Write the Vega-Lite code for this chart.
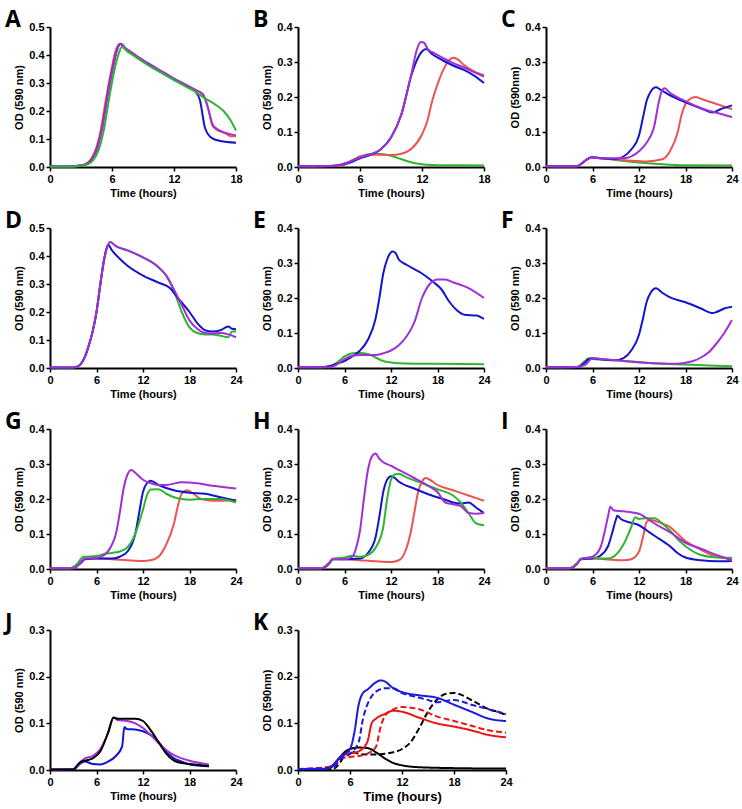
{
"$schema": "https://vega.github.io/schema/vega-lite/v6.json",
"background": "white",
"padding": {"left": 5, "right": 5, "top": 9, "bottom": 2},
"config": {
 "view": {"stroke": null},
 "axis": {"grid": false, "domainColor": "black", "domainWidth": 2, "tickColor": "black", "tickWidth": 1.5, "tickSize": 4, "labelFont": "Liberation Sans", "labelFontWeight": "bold", "labelFontSize": 11, "labelColor": "black", "labelPadding": 2, "titleFont": "Liberation Sans", "titleFontWeight": "bold", "titleFontSize": 11, "titleColor": "black", "labelFlush": false},
 "axisX": {"titlePadding": 3},
 "axisY": {"titlePadding": 4, "format": ".1f"},
 "title": {"font": "Open Sans", "fontSize": 23, "fontWeight": "bold", "color": "black", "anchor": "start", "frame": "group", "dx": -45, "dy": 12, "offset": 1, "baseline": "alphabetic"},
 "line": {"strokeWidth": 2, "interpolate": "monotone"},
 "concat": {"spacing": 10}
},
"datasets": {
 "A": [
  {"s":"red","t":0,"y":0.002},{"s":"red","t":2,"y":0.002},{"s":"red","t":2.9,"y":0.005},{"s":"red","t":3.4,"y":0.01},{"s":"red","t":3.9,"y":0.025},{"s":"red","t":4.4,"y":0.06},{"s":"red","t":4.9,"y":0.13},{"s":"red","t":5.4,"y":0.24},{"s":"red","t":5.9,"y":0.34},{"s":"red","t":6.4,"y":0.42},{"s":"red","t":6.8,"y":0.44},{"s":"red","t":7.2,"y":0.425},{"s":"red","t":8,"y":0.405},{"s":"red","t":9,"y":0.38},{"s":"red","t":10,"y":0.357},{"s":"red","t":11,"y":0.335},{"s":"red","t":12,"y":0.314},{"s":"red","t":13,"y":0.295},{"s":"red","t":14,"y":0.275},{"s":"red","t":14.8,"y":0.258},{"s":"red","t":15.3,"y":0.21},{"s":"red","t":15.7,"y":0.15},{"s":"red","t":16,"y":0.137},{"s":"red","t":17,"y":0.12},{"s":"red","t":17.5,"y":0.11},{"s":"red","t":18,"y":0.11},
  {"s":"blue","t":0,"y":0.002},{"s":"blue","t":2,"y":0.002},{"s":"blue","t":3,"y":0.005},{"s":"blue","t":3.5,"y":0.01},{"s":"blue","t":4,"y":0.025},{"s":"blue","t":4.5,"y":0.06},{"s":"blue","t":5,"y":0.13},{"s":"blue","t":5.5,"y":0.24},{"s":"blue","t":6,"y":0.34},{"s":"blue","t":6.5,"y":0.42},{"s":"blue","t":6.8,"y":0.44},{"s":"blue","t":7.2,"y":0.425},{"s":"blue","t":8,"y":0.405},{"s":"blue","t":9,"y":0.378},{"s":"blue","t":10,"y":0.355},{"s":"blue","t":11,"y":0.333},{"s":"blue","t":12,"y":0.312},{"s":"blue","t":13,"y":0.293},{"s":"blue","t":14,"y":0.273},{"s":"blue","t":14.5,"y":0.24},{"s":"blue","t":15,"y":0.14},{"s":"blue","t":15.6,"y":0.105},{"s":"blue","t":16.5,"y":0.093},{"s":"blue","t":18,"y":0.087},
  {"s":"purple","t":0,"y":0.002},{"s":"purple","t":2,"y":0.002},{"s":"purple","t":3,"y":0.005},{"s":"purple","t":3.5,"y":0.01},{"s":"purple","t":4,"y":0.025},{"s":"purple","t":4.5,"y":0.06},{"s":"purple","t":5,"y":0.13},{"s":"purple","t":5.5,"y":0.24},{"s":"purple","t":6,"y":0.34},{"s":"purple","t":6.5,"y":0.42},{"s":"purple","t":6.9,"y":0.44},{"s":"purple","t":7.3,"y":0.425},{"s":"purple","t":8,"y":0.407},{"s":"purple","t":9,"y":0.382},{"s":"purple","t":10,"y":0.36},{"s":"purple","t":11,"y":0.338},{"s":"purple","t":12,"y":0.316},{"s":"purple","t":13,"y":0.297},{"s":"purple","t":14,"y":0.277},{"s":"purple","t":14.8,"y":0.26},{"s":"purple","t":15.3,"y":0.21},{"s":"purple","t":15.7,"y":0.155},{"s":"purple","t":16,"y":0.14},{"s":"purple","t":17,"y":0.122},{"s":"purple","t":18,"y":0.113},
  {"s":"green","t":0,"y":0.002},{"s":"green","t":2.2,"y":0.002},{"s":"green","t":3.2,"y":0.005},{"s":"green","t":3.7,"y":0.01},{"s":"green","t":4.2,"y":0.025},{"s":"green","t":4.7,"y":0.06},{"s":"green","t":5.2,"y":0.13},{"s":"green","t":5.7,"y":0.24},{"s":"green","t":6.2,"y":0.34},{"s":"green","t":6.7,"y":0.41},{"s":"green","t":7,"y":0.43},{"s":"green","t":7.4,"y":0.415},{"s":"green","t":8,"y":0.4},{"s":"green","t":9,"y":0.375},{"s":"green","t":10,"y":0.352},{"s":"green","t":11,"y":0.332},{"s":"green","t":12,"y":0.31},{"s":"green","t":13,"y":0.29},{"s":"green","t":14,"y":0.27},{"s":"green","t":15,"y":0.245},{"s":"green","t":16,"y":0.223},{"s":"green","t":16.8,"y":0.2},{"s":"green","t":17.5,"y":0.165},{"s":"green","t":18,"y":0.13}
 ],
 "B": [
  {"s":"green","t":0,"y":0.002},{"s":"green","t":4,"y":0.003},{"s":"green","t":5,"y":0.015},{"s":"green","t":6,"y":0.03},{"s":"green","t":7,"y":0.037},{"s":"green","t":8,"y":0.037},{"s":"green","t":9,"y":0.032},{"s":"green","t":10,"y":0.022},{"s":"green","t":11,"y":0.013},{"s":"green","t":12,"y":0.008},{"s":"green","t":13,"y":0.006},{"s":"green","t":15,"y":0.005},{"s":"green","t":18,"y":0.004},
  {"s":"red","t":0,"y":0.002},{"s":"red","t":4,"y":0.003},{"s":"red","t":5,"y":0.015},{"s":"red","t":6,"y":0.03},{"s":"red","t":7,"y":0.035},{"s":"red","t":8,"y":0.035},{"s":"red","t":9,"y":0.034},{"s":"red","t":10,"y":0.038},{"s":"red","t":11,"y":0.053},{"s":"red","t":12,"y":0.093},{"s":"red","t":12.5,"y":0.13},{"s":"red","t":13,"y":0.19},{"s":"red","t":13.5,"y":0.236},{"s":"red","t":14,"y":0.274},{"s":"red","t":14.5,"y":0.3},{"s":"red","t":15,"y":0.312},{"s":"red","t":15.5,"y":0.307},{"s":"red","t":16,"y":0.293},{"s":"red","t":17,"y":0.274},{"s":"red","t":18,"y":0.262},
  {"s":"blue","t":0,"y":0.002},{"s":"blue","t":3,"y":0.003},{"s":"blue","t":4,"y":0.006},{"s":"blue","t":5,"y":0.012},{"s":"blue","t":6,"y":0.025},{"s":"blue","t":7,"y":0.035},{"s":"blue","t":8,"y":0.05},{"s":"blue","t":9,"y":0.084},{"s":"blue","t":10,"y":0.15},{"s":"blue","t":11,"y":0.265},{"s":"blue","t":11.5,"y":0.305},{"s":"blue","t":12,"y":0.33},{"s":"blue","t":12.4,"y":0.337},{"s":"blue","t":13,"y":0.322},{"s":"blue","t":14,"y":0.305},{"s":"blue","t":15,"y":0.29},{"s":"blue","t":16,"y":0.278},{"s":"blue","t":17,"y":0.262},{"s":"blue","t":18,"y":0.24},
  {"s":"purple","t":0,"y":0.002},{"s":"purple","t":3,"y":0.003},{"s":"purple","t":4,"y":0.006},{"s":"purple","t":5,"y":0.015},{"s":"purple","t":6,"y":0.027},{"s":"purple","t":7,"y":0.036},{"s":"purple","t":8,"y":0.05},{"s":"purple","t":9,"y":0.084},{"s":"purple","t":10,"y":0.15},{"s":"purple","t":11,"y":0.27},{"s":"purple","t":11.5,"y":0.335},{"s":"purple","t":11.9,"y":0.357},{"s":"purple","t":12.2,"y":0.355},{"s":"purple","t":12.6,"y":0.335},{"s":"purple","t":13,"y":0.328},{"s":"purple","t":14,"y":0.312},{"s":"purple","t":15,"y":0.297},{"s":"purple","t":16,"y":0.285},{"s":"purple","t":17,"y":0.272},{"s":"purple","t":18,"y":0.258}
 ],
 "C": [
  {"s":"green","t":0,"y":0.002},{"s":"green","t":4,"y":0.002},{"s":"green","t":4.6,"y":0.01},{"s":"green","t":5.3,"y":0.022},{"s":"green","t":5.9,"y":0.027},{"s":"green","t":9,"y":0.02},{"s":"green","t":12,"y":0.013},{"s":"green","t":15,"y":0.008},{"s":"green","t":18,"y":0.005},{"s":"green","t":24,"y":0.004},
  {"s":"red","t":0,"y":0.002},{"s":"red","t":4,"y":0.002},{"s":"red","t":4.6,"y":0.01},{"s":"red","t":5.3,"y":0.022},{"s":"red","t":5.9,"y":0.028},{"s":"red","t":7,"y":0.025},{"s":"red","t":9,"y":0.022},{"s":"red","t":11,"y":0.018},{"s":"red","t":13,"y":0.016},{"s":"red","t":15,"y":0.022},{"s":"red","t":16,"y":0.045},{"s":"red","t":17,"y":0.1},{"s":"red","t":17.5,"y":0.15},{"s":"red","t":18,"y":0.18},{"s":"red","t":18.6,"y":0.195},{"s":"red","t":19.3,"y":0.2},{"s":"red","t":20,"y":0.195},{"s":"red","t":22,"y":0.18},{"s":"red","t":24,"y":0.165},
  {"s":"blue","t":0,"y":0.002},{"s":"blue","t":4,"y":0.002},{"s":"blue","t":4.6,"y":0.01},{"s":"blue","t":5.3,"y":0.022},{"s":"blue","t":5.9,"y":0.028},{"s":"blue","t":7,"y":0.025},{"s":"blue","t":9,"y":0.023},{"s":"blue","t":10,"y":0.03},{"s":"blue","t":11,"y":0.05},{"s":"blue","t":12,"y":0.09},{"s":"blue","t":12.5,"y":0.14},{"s":"blue","t":13,"y":0.19},{"s":"blue","t":13.5,"y":0.215},{"s":"blue","t":14.2,"y":0.228},{"s":"blue","t":14.7,"y":0.222},{"s":"blue","t":16,"y":0.205},{"s":"blue","t":18,"y":0.185},{"s":"blue","t":20,"y":0.168},{"s":"blue","t":21.5,"y":0.156},{"s":"blue","t":22.5,"y":0.165},{"s":"blue","t":24,"y":0.176},
  {"s":"purple","t":0,"y":0.002},{"s":"purple","t":4,"y":0.002},{"s":"purple","t":4.6,"y":0.01},{"s":"purple","t":5.3,"y":0.022},{"s":"purple","t":5.9,"y":0.028},{"s":"purple","t":7,"y":0.025},{"s":"purple","t":10,"y":0.025},{"s":"purple","t":12,"y":0.045},{"s":"purple","t":13,"y":0.07},{"s":"purple","t":14,"y":0.12},{"s":"purple","t":14.5,"y":0.18},{"s":"purple","t":15,"y":0.22},{"s":"purple","t":15.3,"y":0.225},{"s":"purple","t":16,"y":0.212},{"s":"purple","t":18,"y":0.188},{"s":"purple","t":20,"y":0.168},{"s":"purple","t":22,"y":0.155},{"s":"purple","t":24,"y":0.143}
 ],
 "D": [
  {"s":"green","t":0,"y":0.002},{"s":"green","t":3,"y":0.002},{"s":"green","t":3.5,"y":0.005},{"s":"green","t":4,"y":0.015},{"s":"green","t":4.5,"y":0.04},{"s":"green","t":5,"y":0.08},{"s":"green","t":5.5,"y":0.13},{"s":"green","t":6,"y":0.2},{"s":"green","t":6.5,"y":0.3},{"s":"green","t":7,"y":0.39},{"s":"green","t":7.5,"y":0.44},{"s":"green","t":7.8,"y":0.45},{"s":"green","t":8.5,"y":0.435},{"s":"green","t":10,"y":0.42},{"s":"green","t":12,"y":0.395},{"s":"green","t":14,"y":0.36},{"s":"green","t":15,"y":0.33},{"s":"green","t":16,"y":0.275},{"s":"green","t":17,"y":0.2},{"s":"green","t":18,"y":0.145},{"s":"green","t":19,"y":0.125},{"s":"green","t":20,"y":0.12},{"s":"green","t":21,"y":0.12},{"s":"green","t":22,"y":0.115},{"s":"green","t":23,"y":0.11},{"s":"green","t":23.5,"y":0.13},{"s":"green","t":24,"y":0.13},
  {"s":"blue","t":0,"y":0.002},{"s":"blue","t":3,"y":0.002},{"s":"blue","t":3.5,"y":0.005},{"s":"blue","t":4,"y":0.015},{"s":"blue","t":4.5,"y":0.04},{"s":"blue","t":5,"y":0.08},{"s":"blue","t":5.5,"y":0.13},{"s":"blue","t":6,"y":0.2},{"s":"blue","t":6.5,"y":0.3},{"s":"blue","t":7,"y":0.39},{"s":"blue","t":7.5,"y":0.44},{"s":"blue","t":8,"y":0.42},{"s":"blue","t":9,"y":0.39},{"s":"blue","t":10,"y":0.365},{"s":"blue","t":12,"y":0.33},{"s":"blue","t":14,"y":0.305},{"s":"blue","t":15.5,"y":0.285},{"s":"blue","t":16.5,"y":0.25},{"s":"blue","t":18,"y":0.2},{"s":"blue","t":19,"y":0.16},{"s":"blue","t":20,"y":0.135},{"s":"blue","t":21,"y":0.13},{"s":"blue","t":22,"y":0.135},{"s":"blue","t":23,"y":0.148},{"s":"blue","t":23.5,"y":0.14},{"s":"blue","t":24,"y":0.138},
  {"s":"purple","t":0,"y":0.002},{"s":"purple","t":3,"y":0.002},{"s":"purple","t":3.5,"y":0.005},{"s":"purple","t":4,"y":0.015},{"s":"purple","t":4.5,"y":0.04},{"s":"purple","t":5,"y":0.08},{"s":"purple","t":5.5,"y":0.13},{"s":"purple","t":6,"y":0.2},{"s":"purple","t":6.5,"y":0.3},{"s":"purple","t":7,"y":0.39},{"s":"purple","t":7.5,"y":0.44},{"s":"purple","t":7.8,"y":0.45},{"s":"purple","t":8.5,"y":0.435},{"s":"purple","t":10,"y":0.42},{"s":"purple","t":12,"y":0.395},{"s":"purple","t":14,"y":0.36},{"s":"purple","t":15,"y":0.33},{"s":"purple","t":16,"y":0.28},{"s":"purple","t":17,"y":0.225},{"s":"purple","t":18,"y":0.17},{"s":"purple","t":19,"y":0.14},{"s":"purple","t":20,"y":0.125},{"s":"purple","t":21,"y":0.123},{"s":"purple","t":22,"y":0.125},{"s":"purple","t":23,"y":0.12},{"s":"purple","t":24,"y":0.11}
 ],
 "E": [
  {"s":"green","t":0,"y":0.002},{"s":"green","t":3,"y":0.002},{"s":"green","t":4,"y":0.005},{"s":"green","t":5,"y":0.015},{"s":"green","t":6,"y":0.033},{"s":"green","t":7,"y":0.042},{"s":"green","t":8,"y":0.043},{"s":"green","t":9,"y":0.04},{"s":"green","t":10,"y":0.03},{"s":"green","t":11,"y":0.02},{"s":"green","t":12,"y":0.016},{"s":"green","t":14,"y":0.013},{"s":"green","t":18,"y":0.012},{"s":"green","t":24,"y":0.011},
  {"s":"blue","t":0,"y":0.002},{"s":"blue","t":3,"y":0.002},{"s":"blue","t":4,"y":0.005},{"s":"blue","t":5,"y":0.012},{"s":"blue","t":6,"y":0.02},{"s":"blue","t":7,"y":0.033},{"s":"blue","t":8,"y":0.05},{"s":"blue","t":9,"y":0.08},{"s":"blue","t":10,"y":0.14},{"s":"blue","t":10.5,"y":0.2},{"s":"blue","t":11,"y":0.27},{"s":"blue","t":11.5,"y":0.31},{"s":"blue","t":12.2,"y":0.333},{"s":"blue","t":12.6,"y":0.328},{"s":"blue","t":13,"y":0.31},{"s":"blue","t":14,"y":0.295},{"s":"blue","t":16,"y":0.27},{"s":"blue","t":17.5,"y":0.245},{"s":"blue","t":18.5,"y":0.225},{"s":"blue","t":19.5,"y":0.19},{"s":"blue","t":20.5,"y":0.165},{"s":"blue","t":21.5,"y":0.152},{"s":"blue","t":23,"y":0.15},{"s":"blue","t":24,"y":0.14},
  {"s":"purple","t":0,"y":0.002},{"s":"purple","t":4,"y":0.002},{"s":"purple","t":5,"y":0.01},{"s":"purple","t":6,"y":0.025},{"s":"purple","t":7,"y":0.035},{"s":"purple","t":8,"y":0.037},{"s":"purple","t":10,"y":0.037},{"s":"purple","t":11,"y":0.042},{"s":"purple","t":12,"y":0.05},{"s":"purple","t":13,"y":0.065},{"s":"purple","t":14,"y":0.09},{"s":"purple","t":15,"y":0.13},{"s":"purple","t":16,"y":0.2},{"s":"purple","t":17,"y":0.24},{"s":"purple","t":18,"y":0.253},{"s":"purple","t":19,"y":0.253},{"s":"purple","t":20,"y":0.245},{"s":"purple","t":22,"y":0.228},{"s":"purple","t":24,"y":0.2}
 ],
 "F": [
  {"s":"green","t":0,"y":0.002},{"s":"green","t":4,"y":0.003},{"s":"green","t":5,"y":0.02},{"s":"green","t":5.5,"y":0.028},{"s":"green","t":6,"y":0.026},{"s":"green","t":9,"y":0.022},{"s":"green","t":12,"y":0.017},{"s":"green","t":15,"y":0.012},{"s":"green","t":18,"y":0.01},{"s":"green","t":21,"y":0.007},{"s":"green","t":24,"y":0.005},
  {"s":"blue","t":0,"y":0.002},{"s":"blue","t":4,"y":0.002},{"s":"blue","t":5,"y":0.015},{"s":"blue","t":5.5,"y":0.025},{"s":"blue","t":6,"y":0.028},{"s":"blue","t":7,"y":0.025},{"s":"blue","t":9,"y":0.022},{"s":"blue","t":10,"y":0.028},{"s":"blue","t":11,"y":0.05},{"s":"blue","t":12,"y":0.095},{"s":"blue","t":12.5,"y":0.14},{"s":"blue","t":13,"y":0.19},{"s":"blue","t":13.5,"y":0.215},{"s":"blue","t":14.2,"y":0.228},{"s":"blue","t":15,"y":0.215},{"s":"blue","t":16,"y":0.202},{"s":"blue","t":18,"y":0.188},{"s":"blue","t":20,"y":0.17},{"s":"blue","t":21.5,"y":0.157},{"s":"blue","t":22,"y":0.16},{"s":"blue","t":23,"y":0.17},{"s":"blue","t":24,"y":0.175},
  {"s":"purple","t":0,"y":0.002},{"s":"purple","t":4,"y":0.003},{"s":"purple","t":5,"y":0.008},{"s":"purple","t":6,"y":0.028},{"s":"purple","t":7,"y":0.026},{"s":"purple","t":9,"y":0.022},{"s":"purple","t":12,"y":0.016},{"s":"purple","t":15,"y":0.013},{"s":"purple","t":17,"y":0.012},{"s":"purple","t":18,"y":0.015},{"s":"purple","t":19,"y":0.02},{"s":"purple","t":20,"y":0.03},{"s":"purple","t":21,"y":0.045},{"s":"purple","t":22,"y":0.07},{"s":"purple","t":23,"y":0.1},{"s":"purple","t":24,"y":0.137}
 ],
 "G": [
  {"s":"red","t":0,"y":0.002},{"s":"red","t":3,"y":0.002},{"s":"red","t":4,"y":0.02},{"s":"red","t":4.5,"y":0.03},{"s":"red","t":6,"y":0.03},{"s":"red","t":8,"y":0.028},{"s":"red","t":10,"y":0.025},{"s":"red","t":12,"y":0.023},{"s":"red","t":13,"y":0.025},{"s":"red","t":14,"y":0.035},{"s":"red","t":15,"y":0.07},{"s":"red","t":16,"y":0.13},{"s":"red","t":16.5,"y":0.18},{"s":"red","t":17,"y":0.215},{"s":"red","t":17.7,"y":0.225},{"s":"red","t":18.5,"y":0.215},{"s":"red","t":19.5,"y":0.2},{"s":"red","t":21,"y":0.195},{"s":"red","t":22,"y":0.195},{"s":"red","t":24,"y":0.197},
  {"s":"blue","t":0,"y":0.002},{"s":"blue","t":3,"y":0.002},{"s":"blue","t":4,"y":0.018},{"s":"blue","t":4.5,"y":0.028},{"s":"blue","t":6,"y":0.03},{"s":"blue","t":8,"y":0.03},{"s":"blue","t":9,"y":0.035},{"s":"blue","t":10,"y":0.05},{"s":"blue","t":11,"y":0.1},{"s":"blue","t":11.5,"y":0.16},{"s":"blue","t":12,"y":0.22},{"s":"blue","t":12.5,"y":0.245},{"s":"blue","t":13,"y":0.252},{"s":"blue","t":14,"y":0.24},{"s":"blue","t":16,"y":0.225},{"s":"blue","t":18,"y":0.218},{"s":"blue","t":20,"y":0.215},{"s":"blue","t":22,"y":0.205},{"s":"blue","t":24,"y":0.195},
  {"s":"green","t":0,"y":0.002},{"s":"green","t":2.5,"y":0.002},{"s":"green","t":3.5,"y":0.015},{"s":"green","t":4.3,"y":0.035},{"s":"green","t":6,"y":0.037},{"s":"green","t":7,"y":0.043},{"s":"green","t":8,"y":0.046},{"s":"green","t":9,"y":0.05},{"s":"green","t":10,"y":0.062},{"s":"green","t":11,"y":0.1},{"s":"green","t":12,"y":0.17},{"s":"green","t":12.5,"y":0.21},{"s":"green","t":13,"y":0.227},{"s":"green","t":14,"y":0.228},{"s":"green","t":15,"y":0.215},{"s":"green","t":16,"y":0.205},{"s":"green","t":17,"y":0.2},{"s":"green","t":18,"y":0.198},{"s":"green","t":20,"y":0.2},{"s":"green","t":22,"y":0.2},{"s":"green","t":24,"y":0.19},
  {"s":"purple","t":0,"y":0.002},{"s":"purple","t":3,"y":0.002},{"s":"purple","t":3.5,"y":0.008},{"s":"purple","t":4,"y":0.02},{"s":"purple","t":4.5,"y":0.03},{"s":"purple","t":6,"y":0.032},{"s":"purple","t":7,"y":0.04},{"s":"purple","t":8,"y":0.07},{"s":"purple","t":8.5,"y":0.1},{"s":"purple","t":9,"y":0.16},{"s":"purple","t":9.5,"y":0.23},{"s":"purple","t":10,"y":0.27},{"s":"purple","t":10.5,"y":0.283},{"s":"purple","t":11,"y":0.275},{"s":"purple","t":12,"y":0.255},{"s":"purple","t":13,"y":0.245},{"s":"purple","t":14,"y":0.24},{"s":"purple","t":15,"y":0.24},{"s":"purple","t":17,"y":0.248},{"s":"purple","t":19,"y":0.245},{"s":"purple","t":21,"y":0.238},{"s":"purple","t":24,"y":0.23}
 ],
 "H": [
  {"s":"red","t":0,"y":0.002},{"s":"red","t":3,"y":0.002},{"s":"red","t":4,"y":0.018},{"s":"red","t":4.5,"y":0.03},{"s":"red","t":6,"y":0.028},{"s":"red","t":8,"y":0.025},{"s":"red","t":10,"y":0.022},{"s":"red","t":12,"y":0.02},{"s":"red","t":13,"y":0.025},{"s":"red","t":13.5,"y":0.035},{"s":"red","t":14,"y":0.06},{"s":"red","t":14.5,"y":0.1},{"s":"red","t":15,"y":0.16},{"s":"red","t":15.5,"y":0.22},{"s":"red","t":16,"y":0.25},{"s":"red","t":16.5,"y":0.26},{"s":"red","t":17,"y":0.255},{"s":"red","t":18,"y":0.24},{"s":"red","t":20,"y":0.225},{"s":"red","t":22,"y":0.21},{"s":"red","t":24,"y":0.195},
  {"s":"blue","t":0,"y":0.002},{"s":"blue","t":3,"y":0.002},{"s":"blue","t":4,"y":0.015},{"s":"blue","t":4.5,"y":0.028},{"s":"blue","t":6,"y":0.028},{"s":"blue","t":8,"y":0.03},{"s":"blue","t":9,"y":0.045},{"s":"blue","t":10,"y":0.09},{"s":"blue","t":10.5,"y":0.15},{"s":"blue","t":11,"y":0.22},{"s":"blue","t":11.5,"y":0.255},{"s":"blue","t":12,"y":0.265},{"s":"blue","t":12.5,"y":0.26},{"s":"blue","t":13,"y":0.25},{"s":"blue","t":15,"y":0.23},{"s":"blue","t":17,"y":0.212},{"s":"blue","t":19,"y":0.198},{"s":"blue","t":20,"y":0.19},{"s":"blue","t":21,"y":0.187},{"s":"blue","t":22,"y":0.19},{"s":"blue","t":23,"y":0.175},{"s":"blue","t":24,"y":0.16},
  {"s":"green","t":0,"y":0.002},{"s":"green","t":3,"y":0.002},{"s":"green","t":4,"y":0.015},{"s":"green","t":4.5,"y":0.028},{"s":"green","t":6,"y":0.033},{"s":"green","t":7,"y":0.038},{"s":"green","t":8,"y":0.035},{"s":"green","t":9,"y":0.04},{"s":"green","t":10,"y":0.06},{"s":"green","t":11,"y":0.12},{"s":"green","t":11.5,"y":0.2},{"s":"green","t":12,"y":0.255},{"s":"green","t":12.5,"y":0.27},{"s":"green","t":13,"y":0.272},{"s":"green","t":14,"y":0.262},{"s":"green","t":16,"y":0.245},{"s":"green","t":18,"y":0.228},{"s":"green","t":20,"y":0.21},{"s":"green","t":21,"y":0.19},{"s":"green","t":22,"y":0.16},{"s":"green","t":23,"y":0.13},{"s":"green","t":24,"y":0.125},
  {"s":"purple","t":0,"y":0.002},{"s":"purple","t":3,"y":0.002},{"s":"purple","t":4,"y":0.015},{"s":"purple","t":4.5,"y":0.028},{"s":"purple","t":6,"y":0.028},{"s":"purple","t":7,"y":0.035},{"s":"purple","t":7.5,"y":0.06},{"s":"purple","t":8,"y":0.11},{"s":"purple","t":8.5,"y":0.2},{"s":"purple","t":9,"y":0.28},{"s":"purple","t":9.5,"y":0.32},{"s":"purple","t":10,"y":0.33},{"s":"purple","t":10.5,"y":0.315},{"s":"purple","t":11,"y":0.305},{"s":"purple","t":12,"y":0.295},{"s":"purple","t":13,"y":0.283},{"s":"purple","t":15,"y":0.26},{"s":"purple","t":17,"y":0.235},{"s":"purple","t":18,"y":0.22},{"s":"purple","t":19,"y":0.19},{"s":"purple","t":20,"y":0.185},{"s":"purple","t":21,"y":0.18},{"s":"purple","t":22,"y":0.16},{"s":"purple","t":23,"y":0.158},{"s":"purple","t":24,"y":0.16}
 ],
 "I": [
  {"s":"red","t":0,"y":0.002},{"s":"red","t":3,"y":0.002},{"s":"red","t":4,"y":0.015},{"s":"red","t":4.5,"y":0.028},{"s":"red","t":6,"y":0.03},{"s":"red","t":8,"y":0.027},{"s":"red","t":10,"y":0.025},{"s":"red","t":11,"y":0.028},{"s":"red","t":12,"y":0.05},{"s":"red","t":12.5,"y":0.09},{"s":"red","t":13,"y":0.135},{"s":"red","t":13.5,"y":0.14},{"s":"red","t":15,"y":0.13},{"s":"red","t":16,"y":0.12},{"s":"red","t":17,"y":0.1},{"s":"red","t":18,"y":0.08},{"s":"red","t":20,"y":0.055},{"s":"red","t":22,"y":0.035},{"s":"red","t":24,"y":0.03},
  {"s":"blue","t":0,"y":0.002},{"s":"blue","t":3,"y":0.002},{"s":"blue","t":4,"y":0.015},{"s":"blue","t":4.5,"y":0.028},{"s":"blue","t":6,"y":0.03},{"s":"blue","t":7,"y":0.038},{"s":"blue","t":8,"y":0.065},{"s":"blue","t":8.5,"y":0.1},{"s":"blue","t":9,"y":0.14},{"s":"blue","t":9.2,"y":0.152},{"s":"blue","t":9.7,"y":0.142},{"s":"blue","t":11,"y":0.132},{"s":"blue","t":12,"y":0.125},{"s":"blue","t":13,"y":0.11},{"s":"blue","t":14,"y":0.095},{"s":"blue","t":16,"y":0.065},{"s":"blue","t":17,"y":0.045},{"s":"blue","t":18,"y":0.033},{"s":"blue","t":20,"y":0.025},{"s":"blue","t":22,"y":0.022},{"s":"blue","t":24,"y":0.023},
  {"s":"green","t":0,"y":0.002},{"s":"green","t":3,"y":0.002},{"s":"green","t":4,"y":0.015},{"s":"green","t":4.5,"y":0.03},{"s":"green","t":6,"y":0.033},{"s":"green","t":7,"y":0.03},{"s":"green","t":8,"y":0.03},{"s":"green","t":9,"y":0.04},{"s":"green","t":10,"y":0.07},{"s":"green","t":11,"y":0.12},{"s":"green","t":11.5,"y":0.148},{"s":"green","t":12,"y":0.143},{"s":"green","t":13,"y":0.145},{"s":"green","t":14,"y":0.145},{"s":"green","t":15,"y":0.13},{"s":"green","t":16,"y":0.11},{"s":"green","t":17,"y":0.085},{"s":"green","t":18,"y":0.065},{"s":"green","t":20,"y":0.04},{"s":"green","t":22,"y":0.033},{"s":"green","t":24,"y":0.032},
  {"s":"purple","t":0,"y":0.002},{"s":"purple","t":3,"y":0.002},{"s":"purple","t":4,"y":0.015},{"s":"purple","t":4.5,"y":0.028},{"s":"purple","t":6,"y":0.035},{"s":"purple","t":7,"y":0.06},{"s":"purple","t":7.5,"y":0.1},{"s":"purple","t":8,"y":0.15},{"s":"purple","t":8.3,"y":0.178},{"s":"purple","t":8.7,"y":0.168},{"s":"purple","t":10,"y":0.165},{"s":"purple","t":12,"y":0.158},{"s":"purple","t":13,"y":0.145},{"s":"purple","t":14,"y":0.13},{"s":"purple","t":16,"y":0.105},{"s":"purple","t":18,"y":0.075},{"s":"purple","t":20,"y":0.058},{"s":"purple","t":22,"y":0.04},{"s":"purple","t":24,"y":0.025}
 ],
 "J": [
  {"s":"blue","t":0,"y":0.001},{"s":"blue","t":3,"y":0.001},{"s":"blue","t":4,"y":0.015},{"s":"blue","t":4.5,"y":0.018},{"s":"blue","t":5.5,"y":0.013},{"s":"blue","t":6.5,"y":0.012},{"s":"blue","t":7.5,"y":0.018},{"s":"blue","t":8.5,"y":0.03},{"s":"blue","t":9.3,"y":0.05},{"s":"blue","t":9.6,"y":0.092},{"s":"blue","t":9.9,"y":0.088},{"s":"blue","t":11,"y":0.087},{"s":"blue","t":12,"y":0.083},{"s":"blue","t":13,"y":0.075},{"s":"blue","t":14,"y":0.06},{"s":"blue","t":15,"y":0.04},{"s":"blue","t":16,"y":0.025},{"s":"blue","t":17,"y":0.018},{"s":"blue","t":18,"y":0.012},{"s":"blue","t":20.5,"y":0.008},
  {"s":"purple","t":0,"y":0.001},{"s":"purple","t":3,"y":0.002},{"s":"purple","t":3.5,"y":0.008},{"s":"purple","t":4,"y":0.018},{"s":"purple","t":4.5,"y":0.025},{"s":"purple","t":5.5,"y":0.03},{"s":"purple","t":6.5,"y":0.045},{"s":"purple","t":7.5,"y":0.08},{"s":"purple","t":8.2,"y":0.113},{"s":"purple","t":8.7,"y":0.107},{"s":"purple","t":10,"y":0.105},{"s":"purple","t":11,"y":0.1},{"s":"purple","t":12,"y":0.09},{"s":"purple","t":13,"y":0.075},{"s":"purple","t":14,"y":0.058},{"s":"purple","t":15,"y":0.043},{"s":"purple","t":16,"y":0.032},{"s":"purple","t":17,"y":0.025},{"s":"purple","t":18,"y":0.02},{"s":"purple","t":20.5,"y":0.012},
  {"s":"black","t":0,"y":0.001},{"s":"black","t":3,"y":0.001},{"s":"black","t":3.5,"y":0.01},{"s":"black","t":4,"y":0.018},{"s":"black","t":4.5,"y":0.02},{"s":"black","t":5.5,"y":0.025},{"s":"black","t":6.5,"y":0.04},{"s":"black","t":7.5,"y":0.08},{"s":"black","t":8.2,"y":0.112},{"s":"black","t":8.8,"y":0.11},{"s":"black","t":11,"y":0.11},{"s":"black","t":12,"y":0.105},{"s":"black","t":13,"y":0.085},{"s":"black","t":14,"y":0.06},{"s":"black","t":15,"y":0.035},{"s":"black","t":16,"y":0.02},{"s":"black","t":17,"y":0.015},{"s":"black","t":18,"y":0.013},{"s":"black","t":20.5,"y":0.008}
 ],
 "K": [
  {"s":"Kblack","r":"1","t":0,"y":0.001},{"s":"Kblack","r":"1","t":3.5,"y":0.002},{"s":"Kblack","r":"1","t":4.5,"y":0.02},{"s":"Kblack","r":"1","t":5.5,"y":0.04},{"s":"Kblack","r":"1","t":6,"y":0.045},{"s":"Kblack","r":"1","t":7,"y":0.048},{"s":"Kblack","r":"1","t":8,"y":0.047},{"s":"Kblack","r":"1","t":9,"y":0.038},{"s":"Kblack","r":"1","t":10,"y":0.025},{"s":"Kblack","r":"1","t":11,"y":0.015},{"s":"Kblack","r":"1","t":12,"y":0.01},{"s":"Kblack","r":"1","t":14,"y":0.006},{"s":"Kblack","r":"1","t":18,"y":0.004},{"s":"Kblack","r":"1","t":24,"y":0.003},
  {"s":"Kblack","r":"2","t":0,"y":0.001},{"s":"Kblack","r":"2","t":4,"y":0.002},{"s":"Kblack","r":"2","t":5,"y":0.02},{"s":"Kblack","r":"2","t":5.5,"y":0.035},{"s":"Kblack","r":"2","t":6,"y":0.04},{"s":"Kblack","r":"2","t":7,"y":0.035},{"s":"Kblack","r":"2","t":8,"y":0.033},{"s":"Kblack","r":"2","t":9,"y":0.033},{"s":"Kblack","r":"2","t":10,"y":0.035},{"s":"Kblack","r":"2","t":11,"y":0.038},{"s":"Kblack","r":"2","t":12,"y":0.045},{"s":"Kblack","r":"2","t":13,"y":0.06},{"s":"Kblack","r":"2","t":14,"y":0.09},{"s":"Kblack","r":"2","t":15,"y":0.125},{"s":"Kblack","r":"2","t":16,"y":0.15},{"s":"Kblack","r":"2","t":17,"y":0.163},{"s":"Kblack","r":"2","t":18,"y":0.165},{"s":"Kblack","r":"2","t":19,"y":0.16},{"s":"Kblack","r":"2","t":20,"y":0.15},{"s":"Kblack","r":"2","t":21,"y":0.14},{"s":"Kblack","r":"2","t":22,"y":0.13},{"s":"Kblack","r":"2","t":23,"y":0.125},{"s":"Kblack","r":"2","t":24,"y":0.118},
  {"s":"Kred","r":"1","t":0,"y":0.002},{"s":"Kred","r":"1","t":3,"y":0.003},{"s":"Kred","r":"1","t":4,"y":0.01},{"s":"Kred","r":"1","t":5,"y":0.03},{"s":"Kred","r":"1","t":6,"y":0.035},{"s":"Kred","r":"1","t":7,"y":0.04},{"s":"Kred","r":"1","t":8,"y":0.06},{"s":"Kred","r":"1","t":8.5,"y":0.1},{"s":"Kred","r":"1","t":9,"y":0.11},{"s":"Kred","r":"1","t":10,"y":0.12},{"s":"Kred","r":"1","t":11,"y":0.127},{"s":"Kred","r":"1","t":12,"y":0.125},{"s":"Kred","r":"1","t":14,"y":0.112},{"s":"Kred","r":"1","t":16,"y":0.1},{"s":"Kred","r":"1","t":18,"y":0.093},{"s":"Kred","r":"1","t":20,"y":0.085},{"s":"Kred","r":"1","t":22,"y":0.075},{"s":"Kred","r":"1","t":24,"y":0.07},
  {"s":"Kred","r":"2","t":0,"y":0.002},{"s":"Kred","r":"2","t":4,"y":0.008},{"s":"Kred","r":"2","t":5,"y":0.025},{"s":"Kred","r":"2","t":6,"y":0.028},{"s":"Kred","r":"2","t":7,"y":0.03},{"s":"Kred","r":"2","t":8,"y":0.035},{"s":"Kred","r":"2","t":9,"y":0.05},{"s":"Kred","r":"2","t":9.5,"y":0.09},{"s":"Kred","r":"2","t":10,"y":0.115},{"s":"Kred","r":"2","t":11,"y":0.13},{"s":"Kred","r":"2","t":12,"y":0.135},{"s":"Kred","r":"2","t":14,"y":0.13},{"s":"Kred","r":"2","t":16,"y":0.115},{"s":"Kred","r":"2","t":18,"y":0.105},{"s":"Kred","r":"2","t":20,"y":0.095},{"s":"Kred","r":"2","t":22,"y":0.085},{"s":"Kred","r":"2","t":24,"y":0.08},
  {"s":"Kblue","r":"1","t":0,"y":0.002},{"s":"Kblue","r":"1","t":3,"y":0.002},{"s":"Kblue","r":"1","t":4,"y":0.01},{"s":"Kblue","r":"1","t":5,"y":0.03},{"s":"Kblue","r":"1","t":6,"y":0.045},{"s":"Kblue","r":"1","t":6.5,"y":0.08},{"s":"Kblue","r":"1","t":7,"y":0.14},{"s":"Kblue","r":"1","t":7.5,"y":0.165},{"s":"Kblue","r":"1","t":8,"y":0.172},{"s":"Kblue","r":"1","t":9,"y":0.188},{"s":"Kblue","r":"1","t":9.5,"y":0.192},{"s":"Kblue","r":"1","t":10,"y":0.19},{"s":"Kblue","r":"1","t":11,"y":0.175},{"s":"Kblue","r":"1","t":12,"y":0.167},{"s":"Kblue","r":"1","t":14,"y":0.16},{"s":"Kblue","r":"1","t":16,"y":0.155},{"s":"Kblue","r":"1","t":18,"y":0.14},{"s":"Kblue","r":"1","t":20,"y":0.125},{"s":"Kblue","r":"1","t":22,"y":0.11},{"s":"Kblue","r":"1","t":24,"y":0.105},
  {"s":"Kblue","r":"2","t":0,"y":0.002},{"s":"Kblue","r":"2","t":4,"y":0.005},{"s":"Kblue","r":"2","t":5,"y":0.025},{"s":"Kblue","r":"2","t":6,"y":0.035},{"s":"Kblue","r":"2","t":7,"y":0.06},{"s":"Kblue","r":"2","t":7.5,"y":0.11},{"s":"Kblue","r":"2","t":8,"y":0.14},{"s":"Kblue","r":"2","t":8.5,"y":0.158},{"s":"Kblue","r":"2","t":9,"y":0.168},{"s":"Kblue","r":"2","t":10,"y":0.175},{"s":"Kblue","r":"2","t":11,"y":0.175},{"s":"Kblue","r":"2","t":12,"y":0.165},{"s":"Kblue","r":"2","t":14,"y":0.155},{"s":"Kblue","r":"2","t":15,"y":0.15},{"s":"Kblue","r":"2","t":16,"y":0.145},{"s":"Kblue","r":"2","t":17,"y":0.148},{"s":"Kblue","r":"2","t":18,"y":0.15},{"s":"Kblue","r":"2","t":20,"y":0.14},{"s":"Kblue","r":"2","t":22,"y":0.13},{"s":"Kblue","r":"2","t":24,"y":0.12}
 ]
},
"spacing": 12,
"vconcat": [
 {"hconcat": [
  {"title": "A", "width": 186, "height": 140, "data": {"name": "A"}, "mark": "line",
   "encoding": {"x": {"field": "t", "type": "quantitative", "scale": {"domain": [0, 18]}, "axis": {"values": [0, 6, 12, 18], "title": "Time (hours)"}},
    "y": {"field": "y", "type": "quantitative", "scale": {"domain": [0, 0.5]}, "axis": {"values": [0, 0.1, 0.2, 0.3, 0.4, 0.5], "title": "OD (590 nm)"}},
    "color": {"field": "s", "type": "nominal", "sort": null, "scale": {"domain": ["blue", "purple", "red", "green", "black", "Kblue", "Kred", "Kblack"], "range": ["#1414cc", "#a030d6", "#ec5450", "#30b430", "#000000", "#1a1ae0", "#e81414", "#000000"]}, "legend": null}}},
  {"title": "B", "width": 186, "height": 140, "data": {"name": "B"}, "mark": "line",
   "encoding": {"x": {"field": "t", "type": "quantitative", "scale": {"domain": [0, 18]}, "axis": {"values": [0, 6, 12, 18], "title": "Time (hours)"}},
    "y": {"field": "y", "type": "quantitative", "scale": {"domain": [0, 0.4]}, "axis": {"values": [0, 0.1, 0.2, 0.3, 0.4], "title": "OD (590 nm)"}},
    "color": {"field": "s", "type": "nominal", "sort": null, "scale": {"domain": ["blue", "purple", "red", "green", "black", "Kblue", "Kred", "Kblack"], "range": ["#1414cc", "#a030d6", "#ec5450", "#30b430", "#000000", "#1a1ae0", "#e81414", "#000000"]}, "legend": null}}},
  {"title": "C", "width": 186, "height": 140, "data": {"name": "C"}, "mark": "line",
   "encoding": {"x": {"field": "t", "type": "quantitative", "scale": {"domain": [0, 24]}, "axis": {"values": [0, 6, 12, 18, 24], "title": "Time (hours)"}},
    "y": {"field": "y", "type": "quantitative", "scale": {"domain": [0, 0.4]}, "axis": {"values": [0, 0.1, 0.2, 0.3, 0.4], "title": "OD (590nm)"}},
    "color": {"field": "s", "type": "nominal", "sort": null, "scale": {"domain": ["blue", "purple", "red", "green", "black", "Kblue", "Kred", "Kblack"], "range": ["#1414cc", "#a030d6", "#ec5450", "#30b430", "#000000", "#1a1ae0", "#e81414", "#000000"]}, "legend": null}}}
 ]},
 {"hconcat": [
  {"title": "D", "width": 186, "height": 140, "data": {"name": "D"}, "mark": "line",
   "encoding": {"x": {"field": "t", "type": "quantitative", "scale": {"domain": [0, 24]}, "axis": {"values": [0, 6, 12, 18, 24], "title": "Time (hours)"}},
    "y": {"field": "y", "type": "quantitative", "scale": {"domain": [0, 0.5]}, "axis": {"values": [0, 0.1, 0.2, 0.3, 0.4, 0.5], "title": "OD (590 nm)"}},
    "color": {"field": "s", "type": "nominal", "sort": null, "scale": {"domain": ["blue", "purple", "red", "green", "black", "Kblue", "Kred", "Kblack"], "range": ["#1414cc", "#a030d6", "#ec5450", "#30b430", "#000000", "#1a1ae0", "#e81414", "#000000"]}, "legend": null}}},
  {"title": "E", "width": 186, "height": 140, "data": {"name": "E"}, "mark": "line",
   "encoding": {"x": {"field": "t", "type": "quantitative", "scale": {"domain": [0, 24]}, "axis": {"values": [0, 6, 12, 18, 24], "title": "Time (hours)"}},
    "y": {"field": "y", "type": "quantitative", "scale": {"domain": [0, 0.4]}, "axis": {"values": [0, 0.1, 0.2, 0.3, 0.4], "title": "OD (590 nm)"}},
    "color": {"field": "s", "type": "nominal", "sort": null, "scale": {"domain": ["blue", "purple", "red", "green", "black", "Kblue", "Kred", "Kblack"], "range": ["#1414cc", "#a030d6", "#ec5450", "#30b430", "#000000", "#1a1ae0", "#e81414", "#000000"]}, "legend": null}}},
  {"title": "F", "width": 186, "height": 140, "data": {"name": "F"}, "mark": "line",
   "encoding": {"x": {"field": "t", "type": "quantitative", "scale": {"domain": [0, 24]}, "axis": {"values": [0, 6, 12, 18, 24], "title": "Time (hours)"}},
    "y": {"field": "y", "type": "quantitative", "scale": {"domain": [0, 0.4]}, "axis": {"values": [0, 0.1, 0.2, 0.3, 0.4], "title": "OD (590 nm)"}},
    "color": {"field": "s", "type": "nominal", "sort": null, "scale": {"domain": ["blue", "purple", "red", "green", "black", "Kblue", "Kred", "Kblack"], "range": ["#1414cc", "#a030d6", "#ec5450", "#30b430", "#000000", "#1a1ae0", "#e81414", "#000000"]}, "legend": null}}}
 ]},
 {"hconcat": [
  {"title": "G", "width": 186, "height": 140, "data": {"name": "G"}, "mark": "line",
   "encoding": {"x": {"field": "t", "type": "quantitative", "scale": {"domain": [0, 24]}, "axis": {"values": [0, 6, 12, 18, 24], "title": "Time (hours)"}},
    "y": {"field": "y", "type": "quantitative", "scale": {"domain": [0, 0.4]}, "axis": {"values": [0, 0.1, 0.2, 0.3, 0.4], "title": "OD (590 nm)"}},
    "color": {"field": "s", "type": "nominal", "sort": null, "scale": {"domain": ["blue", "purple", "red", "green", "black", "Kblue", "Kred", "Kblack"], "range": ["#1414cc", "#a030d6", "#ec5450", "#30b430", "#000000", "#1a1ae0", "#e81414", "#000000"]}, "legend": null}}},
  {"title": "H", "width": 186, "height": 140, "data": {"name": "H"}, "mark": "line",
   "encoding": {"x": {"field": "t", "type": "quantitative", "scale": {"domain": [0, 24]}, "axis": {"values": [0, 6, 12, 18, 24], "title": "Time (hours)"}},
    "y": {"field": "y", "type": "quantitative", "scale": {"domain": [0, 0.4]}, "axis": {"values": [0, 0.1, 0.2, 0.3, 0.4], "title": "OD (590 nm)"}},
    "color": {"field": "s", "type": "nominal", "sort": null, "scale": {"domain": ["blue", "purple", "red", "green", "black", "Kblue", "Kred", "Kblack"], "range": ["#1414cc", "#a030d6", "#ec5450", "#30b430", "#000000", "#1a1ae0", "#e81414", "#000000"]}, "legend": null}}},
  {"title": "I", "width": 186, "height": 140, "data": {"name": "I"}, "mark": "line",
   "encoding": {"x": {"field": "t", "type": "quantitative", "scale": {"domain": [0, 24]}, "axis": {"values": [0, 6, 12, 18, 24], "title": "Time (hours)"}},
    "y": {"field": "y", "type": "quantitative", "scale": {"domain": [0, 0.4]}, "axis": {"values": [0, 0.1, 0.2, 0.3, 0.4], "title": "OD (590 nm)"}},
    "color": {"field": "s", "type": "nominal", "sort": null, "scale": {"domain": ["blue", "purple", "red", "green", "black", "Kblue", "Kred", "Kblack"], "range": ["#1414cc", "#a030d6", "#ec5450", "#30b430", "#000000", "#1a1ae0", "#e81414", "#000000"]}, "legend": null}}}
 ]},
 {"hconcat": [
  {"title": "J", "width": 186, "height": 140, "data": {"name": "J"}, "mark": "line",
   "encoding": {"x": {"field": "t", "type": "quantitative", "scale": {"domain": [0, 24]}, "axis": {"values": [0, 6, 12, 18, 24], "title": "Time (hours)"}},
    "y": {"field": "y", "type": "quantitative", "scale": {"domain": [0, 0.3]}, "axis": {"values": [0, 0.1, 0.2, 0.3], "title": "OD (590 nm)"}},
    "color": {"field": "s", "type": "nominal", "sort": null, "scale": {"domain": ["blue", "purple", "red", "green", "black", "Kblue", "Kred", "Kblack"], "range": ["#1414cc", "#a030d6", "#ec5450", "#30b430", "#000000", "#1a1ae0", "#e81414", "#000000"]}, "legend": null}}},
  {"title": "K", "width": 208, "height": 140, "data": {"name": "K"}, "mark": "line",
   "encoding": {"x": {"field": "t", "type": "quantitative", "scale": {"domain": [0, 24]}, "axis": {"values": [0, 6, 12, 18, 24], "title": "Time (hours)", "titleFontSize": 13}},
    "y": {"field": "y", "type": "quantitative", "scale": {"domain": [0, 0.3]}, "axis": {"values": [0, 0.1, 0.2, 0.3], "title": "OD (590nm)"}},
    "strokeDash": {"field": "r", "type": "nominal", "scale": {"domain": ["1", "2"], "range": [[1, 0], [6, 3]]}, "legend": null},
    "detail": {"field": "r", "type": "nominal"},
    "color": {"field": "s", "type": "nominal", "sort": null, "scale": {"domain": ["blue", "purple", "red", "green", "black", "Kblue", "Kred", "Kblack"], "range": ["#1414cc", "#a030d6", "#ec5450", "#30b430", "#000000", "#1a1ae0", "#e81414", "#000000"]}, "legend": null}}}
 ]}
]
}
